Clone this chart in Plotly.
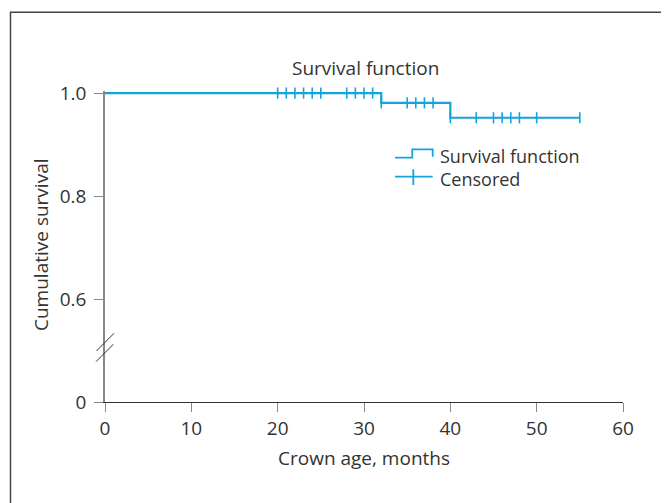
import plotly.graph_objects as go

# ---- data ----
step_time = [0, 32, 40, 55]
step_surv = [1.0, 0.981, 0.952, 0.952]
censored_time = [20, 21, 22, 23, 24, 25, 28, 29, 30, 31, 32,
                 35, 36, 37, 38, 40, 43, 45, 46, 47, 48, 50, 55]
x_ticks = [0, 10, 20, 30, 40, 50, 60]
y_tickvals = [0.4, 0.6, 0.8, 1.0]   # bottom tick sits below an axis break
y_ticktext = ["0", "0.6", "0.8", "1.0"]
legend_labels = ["Survival function", "Censored"]

def surv_at(t):
    s = step_surv[0]
    for tt, ss in zip(step_time, step_surv):
        if t >= tt:
            s = ss
    return s

censored_surv = [surv_at(t) for t in censored_time]

BLUE = "#12a4dd"
TEXT = "#333333"
FONT = "Open Sans"
FS = 19

OFF = 8                      # page body margin
W, H = 669 - OFF, 503 - OFF
# plot area in page pixels
PL, PR, PT, PB = 105, 623, 91, 402
L, R, T, B = PL - OFF, (669 - PR), PT - OFF, (503 - PB)
PW, PH = PR - PL, PB - PT

def px(x):
    return (x - PL) / PW

def py(y):
    return (PB - y) / PH

fig = go.Figure()
fig.add_trace(go.Scatter(
    x=step_time, y=step_surv, mode="lines", line=dict(color=BLUE, width=2.2, shape="hv"),
    showlegend=False, hoverinfo="skip"))
fig.add_trace(go.Scatter(
    x=censored_time, y=censored_surv, mode="markers",
    marker=dict(symbol="line-ns", size=8, line=dict(color=BLUE, width=1.6)),
    showlegend=False, cliponaxis=False))

shapes = []
# outer frame
shapes.append(dict(type="rect", xref="paper", yref="paper",
                   x0=px(10.5), y0=py(12.3), x1=1.3, y1=-0.6,
                   line=dict(color="#444444", width=1.5), layer="below"))
# axis break slashes
for (xa, ya, xb, yb) in [(96.5, 351, 114, 333.3), (96, 361.7, 113.3, 344.3)]:
    shapes.append(dict(type="line", xref="paper", yref="paper",
                       x0=px(xa), y0=py(ya), x1=px(xb), y1=py(yb),
                       line=dict(color="#333333", width=1)))
# legend glyphs
shapes.append(dict(type="path", xref="paper", yref="paper",
                   path=f"M{px(395)},{py(157.7)} L{px(412.3)},{py(157.7)} L{px(412.3)},{py(149.3)} "
                        f"L{px(432.7)},{py(149.3)} L{px(432.7)},{py(156.7)}",
                   line=dict(color=BLUE, width=1.8)))
shapes.append(dict(type="line", xref="paper", yref="paper",
                   x0=px(395), x1=px(432.7), y0=py(176.7), y1=py(176.7),
                   line=dict(color=BLUE, width=1.8)))
shapes.append(dict(type="line", xref="paper", yref="paper",
                   x0=px(413.3), x1=px(413.3), y0=py(169.3), y1=py(185),
                   line=dict(color=BLUE, width=1.8)))

def ann(text, x, y, xanchor="center", angle=0, size=FS):
    return dict(text=text, xref="paper", yref="paper", x=px(x), y=py(y),
                xanchor=xanchor, yanchor="middle", showarrow=False, textangle=angle,
                align="left", font=dict(size=size, color=TEXT, family=FONT))

annotations = [
    ann("Survival function", 365, 68),
    ann("<br>".join(legend_labels), 438, 167, "left", size=18),
    ann("Crown age, months", 364, 458),
    ann("Cumulative survival", 41, 245, angle=-90),
]

axis_common = dict(showgrid=False, zeroline=False, showline=True,
                   ticks="outside", ticklen=9, tickcolor="#888888", tickwidth=1.3,
                   tickfont=dict(size=FS, color=TEXT, family=FONT))

fig.update_layout(
    width=W, height=H,
    margin=dict(l=L, r=R, t=T, b=B),
    paper_bgcolor="white", plot_bgcolor="white",
    font=dict(family=FONT, size=FS, color=TEXT),
    shapes=shapes, annotations=annotations,
    xaxis=dict(range=[0, 60], tickvals=x_ticks, linecolor="#333333", linewidth=1.3, **axis_common),
    yaxis=dict(range=[0.4, 1.004], tickvals=y_tickvals, ticktext=y_ticktext,
               linecolor="#888888", linewidth=1.5, ticklabelstandoff=4, **axis_common),
)

fig.write_html("out.html")
